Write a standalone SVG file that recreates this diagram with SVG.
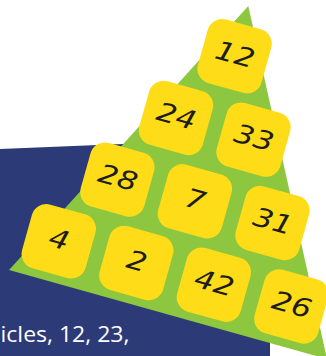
<svg xmlns="http://www.w3.org/2000/svg" width="326" height="356" viewBox="0 0 326 356">
<style>
.bg-navy{fill:#2C3A78}
.bg-green{fill:#8DC63F}
.tile rect{fill:#FFDC18}
.tile text{font-family:"DejaVu Sans",sans-serif;font-style:oblique;font-weight:200;font-size:26px;fill:#1d1d1b;text-anchor:middle}
.caption{font-family:"Open Sans","Liberation Sans",sans-serif;font-size:22.5px;fill:#ffffff}
</style>
<polygon class="bg-navy" points="0,149 270,138 270,356 0,356"/>
<polygon class="bg-green" points="248.3,6 9,270 327,359"/>
<text class="caption" x="0.5" y="342.3" textLength="129" lengthAdjust="spacingAndGlyphs">icles, 12, 23,</text>
<g id="connectors"/>
<g id="pyramid" transform="translate(58.8,241.3) rotate(15.64)">
  <g id="t4" class="tile" transform="translate(0,0)"><rect x="-33" y="-33" width="66" height="66" rx="15"/><text y="7" transform="scale(1.2,1)">4</text></g>
  <g id="t2" class="tile" transform="translate(80.5,0)"><rect x="-33" y="-33" width="66" height="66" rx="15"/><text y="7" transform="scale(1.2,1)">2</text></g>
  <g id="t42" class="tile" transform="translate(161,0)"><rect x="-33" y="-33" width="66" height="66" rx="15"/><text y="7" transform="scale(1.2,1)">42</text></g>
  <g id="t26" class="tile" transform="translate(241.5,0)"><rect x="-33" y="-33" width="66" height="66" rx="15"/><text y="7" transform="scale(1.2,1)">26</text></g>
  <g id="t28" class="tile" transform="translate(39.8,-75.2)"><rect x="-33" y="-33" width="66" height="66" rx="15"/><text y="7" transform="scale(1.2,1)">28</text></g>
  <g id="t7" class="tile" transform="translate(120.3,-75.2)"><rect x="-33" y="-33" width="66" height="66" rx="15"/><text y="7" transform="scale(1.2,1)">7</text></g>
  <g id="t31" class="tile" transform="translate(200.8,-75.2)"><rect x="-33" y="-33" width="66" height="66" rx="15"/><text y="7" transform="scale(1.2,1)">31</text></g>
  <g id="t24" class="tile" transform="translate(79.6,-150.4)"><rect x="-33" y="-33" width="66" height="66" rx="15"/><text y="7" transform="scale(1.2,1)">24</text></g>
  <g id="t33" class="tile" transform="translate(160.1,-150.4)"><rect x="-33" y="-33" width="66" height="66" rx="15"/><text y="7" transform="scale(1.2,1)">33</text></g>
  <g id="t12" class="tile" transform="translate(119.4,-225.6)"><rect x="-33" y="-33" width="66" height="66" rx="15"/><text y="7" transform="scale(1.2,1)">12</text></g>
</g>
</svg>
